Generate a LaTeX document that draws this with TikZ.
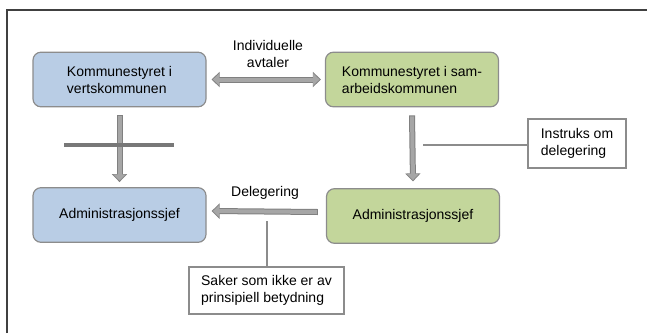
\documentclass[tikz,border=0pt]{standalone}
\usepackage{fontspec}
\setmainfont{Liberation Sans}
\usetikzlibrary{arrows.meta}
\definecolor{blaafyll}{RGB}{185,205,229}
\definecolor{groennfyll}{RGB}{195,214,155}
\definecolor{kantgraa}{RGB}{140,140,140}
\definecolor{pilgraa}{RGB}{166,166,166}
\definecolor{pilkantgraa}{RGB}{128,128,128}
\definecolor{kryssgraa}{RGB}{120,120,120}
\definecolor{rammegraa}{RGB}{64,64,64}
\begin{document}
\begin{tikzpicture}[x=0.75pt,y=-0.75pt,
        font=\fontsize{10.5}{12.75}\selectfont,
        kboks/.style={draw=kantgraa, line width=0.9pt, rounded corners=6pt,
            minimum width=129.75pt, minimum height=41pt, align=left},
        blaa/.style={kboks, fill=blaafyll},
        groenn/.style={kboks, fill=groennfyll},
        notat/.style={draw=kantgraa, line width=0.9pt, fill=white, align=left},
        pilkant/.style={draw=pilkantgraa, line width=4.5pt},
        pilkropp/.style={draw=pilgraa, line width=3pt},
        spiss/.style={-{Triangle[width=11.25pt,length=6pt]}},
        indrespiss/.style={-{Triangle[width=9pt,length=4.8pt]}},
        tynn/.style={draw=kantgraa, line width=1.1pt},
        ramme/.style={draw=rammegraa, line width=1.1pt}]
        \useasboundingbox (0,0) rectangle (647,333);
        \draw[ramme] (7,333) -- (7,10) -- (647,10);
        \node[blaa] (vert) at (119.5,79.5) {Kommunestyret i\\vertskommunen};
        \node[groenn] (samarb) at (412,79.5) {Kommunestyret i sam-\\arbeidskommunen};
        \node[blaa] (vertadm) at (119.5,215) {Administrasjonssjef};
        \node[groenn] (samadm) at (413,216) {Administrasjonssjef};
        \node[notat, minimum width=73.5pt, minimum height=36.75pt] (instruks) at (577,143.5) {Instruks om\\delegering};
        \node[notat, minimum width=116.25pt, minimum height=35.25pt] (saker) at (266.5,290.5) {Saker som ikke er av\\prinsipiell betydning};
        \node[align=center] (avtaler) at (268,53.5) {Individuelle\\avtaler};
        \node (delegering) at (265,193) {Delegering};
        \draw[pilkant, {Triangle[width=11.25pt,length=6pt]}-{Triangle[width=11.25pt,length=6pt]}] ([xshift=3.75pt]vert.east) -- ([xshift=-3pt]samarb.west);
        \draw[pilkropp, {Triangle[width=9pt,length=4.8pt]}-{Triangle[width=9pt,length=4.8pt]}] ([xshift=4.75pt]vert.east) -- ([xshift=-4pt]samarb.west);
        \draw[pilkant, spiss] ([yshift=-6pt]vert.south) -- ([yshift=3.75pt]vertadm.north);
        \draw[pilkropp, indrespiss] ([yshift=-6.75pt]vert.south) -- ([yshift=4.75pt]vertadm.north);
        \draw[kryssgraa, line width=3pt] (64,145) -- (174,145);
        \draw[pilkant, spiss] ([yshift=-6pt]samarb.south) -- ([yshift=5pt]samadm.north);
        \draw[pilkropp, indrespiss] ([yshift=-6.75pt]samarb.south) -- ([yshift=6pt]samadm.north);
        \draw[pilkant, spiss] ([xshift=-6pt,yshift=3pt]samadm.west) -- ([xshift=3.75pt,yshift=3pt]vertadm.east);
        \draw[pilkropp, indrespiss] ([xshift=-6.75pt,yshift=3pt]samadm.west) -- ([xshift=4.75pt,yshift=3pt]vertadm.east);
        \coordinate (instrukspunkt) at (423,145);
        \draw[tynn] (instrukspunkt) -- (instrukspunkt -| instruks.west);
        \coordinate (sakerpunkt) at (267,221);
        \draw[tynn] (sakerpunkt) -- (sakerpunkt |- saker.north);
\end{tikzpicture}
\end{document}
